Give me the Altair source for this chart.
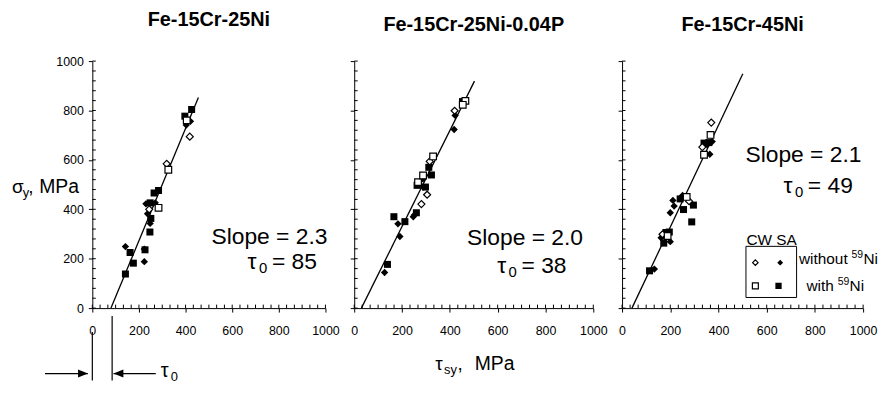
import altair as alt
import pandas as pd

# ---------------- data ----------------
panel_titles = ["Fe-15Cr-25Ni", "Fe-15Cr-25Ni-0.04P", "Fe-15Cr-45Ni"]
slope_texts = ["Slope = 2.3", "Slope = 2.0", "Slope = 2.1"]
tau0_values = [85, 38, 49]
axis_ticks = [0, 200, 400, 600, 800, 1000]

# (tau_sy, sigma_y) in MPa ; CW = open symbols, SA = filled symbols
p1_cw_without = [(244, 400), (319, 584), (418, 694)]
p1_sa_without = [(142, 249), (223, 239), (223, 188), (248, 343), (237, 382),
                 (230, 422), (270, 426), (403, 741), (421, 756)]
p1_cw_with = [(284, 406), (326, 560), (405, 760)]
p1_sa_with = [(142, 138), (162, 225), (176, 182), (226, 236), (247, 308),
              (251, 363), (248, 426), (265, 466), (284, 476), (397, 777), (426, 804)]
p1_fit = [(80, 0), (455, 853)]

p2_cw_without = [(281, 421), (305, 459), (316, 594), (420, 799)]
p2_sa_without = [(127, 144), (191, 290), (183, 341), (247, 370), (252, 377),
                 (288, 490), (287, 523), (418, 723), (422, 780)]
p2_cw_with = [(267, 510), (288, 537), (330, 614), (465, 839), (454, 823)]
p2_sa_with = [(139, 177), (166, 370), (212, 350), (260, 386), (263, 497),
              (298, 490), (323, 539), (312, 570), (453, 836)]
p2_fit = [(30, 0), (503, 919)]

p3_cw_without = [(168, 299), (278, 433), (333, 652), (370, 751)]
p3_sa_without = [(134, 158), (162, 285), (175, 292), (200, 269), (200, 386),
                 (216, 413), (211, 436), (251, 456), (364, 623), (353, 661), (374, 674)]
p3_cw_with = [(189, 292), (268, 450), (340, 621), (367, 701)]
p3_sa_with = [(114, 151), (173, 263), (182, 306), (196, 308), (241, 442),
              (255, 399), (296, 417), (289, 349), (340, 668), (360, 670)]
p3_fit = [(41, 0), (501, 949)]

# ---------------- layout / style ----------------
FONT = "Liberation Sans"
H = 249
WIDTHS = [235, 241, 243]
SLOPE_POS = [(511, 260), (472, 257), (512, 592)]
TAU_POS = [(666, 159), (598, 141), (670, 465)]
X_MINOR = [round(k * 200 / 6, 2) for k in range(31)]
Y_MINOR = list(range(0, 1001, 40))


def df(pts):
    return pd.DataFrame(pts, columns=["x", "y"])


def txt(text, x, y, size, **kw):
    return alt.Chart(pd.DataFrame({"t": [text]})).mark_text(
        align="left", baseline="alphabetic", font=FONT, fontSize=size,
        color="black", **kw).encode(x=alt.value(x), y=alt.value(y), text="t")


def panel(i, cw_without, sa_without, cw_with, sa_with, fit, extra):
    xs = alt.Scale(domain=[0, 1000], nice=False, zero=False)
    ys = alt.Scale(domain=[0, 1000], nice=False, zero=False)
    common = dict(title=None, grid=False, tickSize=4, labelFont=FONT, format="d",
                  labelFontSize=12.5, labelColor="black", domainColor="black",
                  tickColor="black", domainWidth=1, tickWidth=1, labelOverlap=False)
    xax = alt.Axis(values=axis_ticks, labelPadding=13, labelFlush=False, **common)
    yax = alt.Axis(values=axis_ticks, labels=(i == 0), labelPadding=5, **common)
    X = alt.X("x:Q", scale=xs, axis=xax)
    Y = alt.Y("y:Q", scale=ys, axis=yax)
    X2 = alt.X2("x2:Q")

    layers = [
        alt.Chart(pd.DataFrame({"x": X_MINOR})).mark_rule(color="black", strokeWidth=1)
        .encode(x=X, y=alt.value(H), y2=alt.value(H - 3.5)),
        alt.Chart(pd.DataFrame({"y": Y_MINOR})).mark_rule(color="black", strokeWidth=1)
        .encode(y=Y, x=alt.value(0), x2=alt.value(3.5)),
        alt.Chart(df(fit)).mark_line(color="black", strokeWidth=1.3).encode(x=X, y=Y),
        alt.Chart(df(sa_without)).mark_point(shape="diamond", filled=True, color="black",
                                             size=55, opacity=1).encode(x=X, y=Y),
        alt.Chart(df(sa_with)).mark_point(shape="square", filled=True, color="black",
                                          size=50, opacity=1).encode(x=X, y=Y),
        alt.Chart(df(cw_without)).mark_point(shape="diamond", fill="white", stroke="black",
                                             strokeWidth=1.2, size=50, opacity=1,
                                             fillOpacity=1).encode(x=X, y=Y),
        alt.Chart(df(cw_with)).mark_point(shape="square", fill="white", stroke="black",
                                          strokeWidth=1.2, size=45, opacity=1,
                                          fillOpacity=1).encode(x=X, y=Y),
    ]
    sx, sy = SLOPE_POS[i]
    tx, ty = TAU_POS[i]
    tk = dict(align="left", baseline="alphabetic", font=FONT, color="black")
    layers += [
        alt.Chart(df([(sx, sy)])).mark_text(text=slope_texts[i], fontSize=23, **tk)
        .encode(x=X, y=Y),
        alt.Chart(df([(tx, ty)])).mark_text(text="τ", fontSize=23, **tk).encode(x=X, y=Y),
        alt.Chart(df([(tx, ty)])).mark_text(text="0", fontSize=15, dx=11.5, dy=4, **tk)
        .encode(x=X, y=Y),
        alt.Chart(df([(tx, ty)])).mark_text(text=f"= {tau0_values[i]}", fontSize=23,
                                            dx=24.5, **tk).encode(x=X, y=Y),
    ]
    layers += extra(X, Y, X2, tk)
    return alt.layer(*layers).properties(
        width=WIDTHS[i], height=H,
        title=alt.TitleParams(panel_titles[i], font=FONT, fontSize=20, fontWeight="bold",
                              color="black", anchor="middle", frame="group",
                              baseline="alphabetic", offset=9.5))


def extra1(X, Y, X2, tk):
    t0 = tau0_values[0]
    return [
        txt("σ", -81, 132.7, 19),
        txt("y", -70.2, 136.7, 13),
        txt(",", -64.7, 132.7, 19),
        txt("MPa", -53.6, 132.7, 19.5),
        alt.Chart(pd.DataFrame({"x": [0]})).mark_rule(color="black", strokeWidth=1.2)
        .encode(x=X, y=alt.value(273), y2=alt.value(322)),
        alt.Chart(pd.DataFrame({"x": [t0]})).mark_rule(color="black", strokeWidth=1.2)
        .encode(x=X, y=alt.value(257), y2=alt.value(322)),
        alt.Chart(pd.DataFrame({"x": [-203, 91], "x2": [-19, 272]}))
        .mark_rule(color="black", strokeWidth=1.2).encode(x=X, x2=X2, y=alt.value(315)),
        alt.Chart(pd.DataFrame({"x": [-40]})).mark_point(
            shape="M-1,-0.8L1,0L-1,0.8Z", filled=True, color="black", size=100, opacity=1)
        .encode(x=X, y=alt.value(315)),
        alt.Chart(pd.DataFrame({"x": [112]})).mark_point(
            shape="M1,-0.8L-1,0L1,0.8Z", filled=True, color="black", size=100, opacity=1)
        .encode(x=X, y=alt.value(315)),
        alt.Chart(pd.DataFrame({"x": [294]})).mark_text(text="τ", fontSize=20, **tk)
        .encode(x=X, y=alt.value(318)),
        alt.Chart(pd.DataFrame({"x": [294]})).mark_text(text="0", fontSize=13, dx=10, dy=4, **tk)
        .encode(x=X, y=alt.value(318)),
    ]


def extra2(X, Y, X2, tk):
    return [
        txt("τ", 81.7, 311.7, 19),
        txt("sy", 90.5, 315.7, 13),
        txt(",", 104.2, 311.7, 19),
        txt("MPa", 121.5, 311.7, 19.5),
    ]


def extra3(X, Y, X2, tk):
    out = [
        alt.Chart(pd.DataFrame({"x": [514], "x2": [724], "y": [43], "y2": [250]}))
        .mark_rect(fill="white", stroke="black", strokeWidth=1)
        .encode(x=X, x2=X2, y=Y, y2=alt.Y2("y2:Q")),
        alt.Chart(df([(516, 257)])).mark_text(text="CW SA", fontSize=15.5, **tk).encode(x=X, y=Y),
        alt.Chart(df([(553, 184)])).mark_point(shape="diamond", fill="white", stroke="black",
                                               strokeWidth=1.2, size=30, opacity=1,
                                               fillOpacity=1).encode(x=X, y=Y),
        alt.Chart(df([(656, 184)])).mark_point(shape="diamond", filled=True, color="black",
                                               size=35, opacity=1).encode(x=X, y=Y),
        alt.Chart(df([(553, 90)])).mark_point(shape="square", fill="white", stroke="black",
                                              strokeWidth=1.2, size=36, opacity=1,
                                              fillOpacity=1).encode(x=X, y=Y),
        alt.Chart(df([(649, 90)])).mark_point(shape="square", filled=True, color="black",
                                              size=40, opacity=1).encode(x=X, y=Y),
    ]
    for word, (lx, ly), d59, dni in [("without", (734, 177), 53.0, 65.0),
                                     ("with", (765, 69), 31.6, 43.5)]:
        out += [
            alt.Chart(df([(lx, ly)])).mark_text(text=word, fontSize=15.5, **tk)
            .encode(x=X, y=Y),
            alt.Chart(df([(lx, ly)])).mark_text(text="59", fontSize=10.5, dx=d59, dy=-6, **tk)
            .encode(x=X, y=Y),
            alt.Chart(df([(lx, ly)])).mark_text(text="Ni", fontSize=15.5, dx=dni, **tk)
            .encode(x=X, y=Y),
        ]
    return out


p1 = panel(0, p1_cw_without, p1_sa_without, p1_cw_with, p1_sa_with, p1_fit, extra1)
p2 = panel(1, p2_cw_without, p2_sa_without, p2_cw_with, p2_sa_with, p2_fit, extra2)
p3 = panel(2, p3_cw_without, p3_sa_without, p3_cw_with, p3_sa_with, p3_fit, extra3)

chart = alt.hconcat(p1, p2, p3, spacing=29, bounds="flush").configure_view(
    stroke=None).properties(
    padding={"left": 4, "top": 0, "right": 0, "bottom": 0}, background="white")

chart.save("out.html", embed_options={"renderer": "svg", "actions": False})
